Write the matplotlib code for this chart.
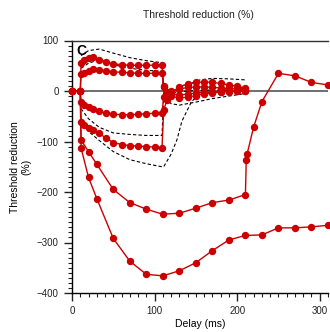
import matplotlib
matplotlib.use("Agg")
import matplotlib.pyplot as plt
from matplotlib.ticker import MultipleLocator

plt.rcParams['font.family'] = ['Liberation Sans', 'DejaVu Sans']

# ---- data ----
delays_a = [0, 10, 11, 15, 20, 26, 33, 41, 50, 60, 70, 80, 90, 100, 109,
            111, 115, 120, 130, 140, 150, 160, 170, 180, 190, 200, 210]
ted40 = [0, 0, 55, 62, 66, 68, 62, 57, 54, 52, 51, 51, 51, 51, 52,
         10, -4, -10, -14, -12, -9, -6, -4, -2, -1, 0, 0]
ted20 = [0, 0, 33, 36, 39, 43, 42, 40, 38, 37, 36, 35, 35, 35, 35,
         8, -2, -6, -8, -6, -4, -3, -2, -1, 0, 0, 0]
teh20 = [0, 0, -22, -28, -32, -36, -40, -44, -46, -47, -47, -46, -45, -44, -44,
         -12, -4, 0, 4, 7, 8, 8, 7, 6, 5, 4, 3]
teh40 = [0, 0, -62, -68, -74, -78, -84, -93, -102, -106, -108, -109, -110, -111, -112,
         -38, -18, -4, 8, 14, 17, 18, 17, 15, 12, 9, 6]

delays_b = [0, 10, 11, 20, 30, 50, 70, 90, 110, 130, 150, 170, 190, 210,
            211, 212, 220, 230, 250, 270, 290, 310]
teh70 = [0, 0, -97, -120, -145, -195, -221, -234, -244, -242, -232, -221, -216, -205,
         -137, -125, -71, -21, 35, 30, 17, 12]

delays_c = [0, 10, 11, 20, 30, 50, 70, 90, 110, 130, 150, 170, 190, 210,
            230, 250, 270, 290, 310]
teh100 = [0, 0, -113, -171, -213, -292, -337, -363, -366, -356, -340, -316, -295, -286,
          -285, -271, -271, -269, -266]

# normal-range limits (dashed)
lim_d_x = [11, 20, 33, 50, 70, 90, 109, 111, 115, 120, 130, 140, 150, 170, 190, 210]
ted40_upper = [70, 80, 83, 75, 66, 60, 56, 0, -3, -4, -2, 0, 1, 2, 2, 2]
ted40_lower = [45, 55, 62, 52, 45, 41, 39, -5, -18, -25, -28, -25, -22, -15, -10, -5]
lim_h_x = [11, 20, 33, 50, 70, 90, 109, 111, 120, 127, 133, 145, 155, 170, 190, 210]
teh40_upper = [-35, -55, -72, -83, -86, -88, -88, -10, 0, 6, 10, 16, 22, 25, 24, 22]
teh40_lower = [-55, -80, -98, -120, -136, -144, -150, -150, -125, -97, -60, -20, -8, -2, 2, 5]

xticks = [0, 100, 200, 300]
yticks = [-400, -300, -200, -100, 0, 100]

# ---- plot ----
fig = plt.figure(figsize=(3.30, 3.32), dpi=100)
ax = fig.add_axes([72/330, 39/332, 256/330, 252.5/332])

red = '#cc0000'
ax.axhline(0, color='#555555', lw=1.2, zorder=1)

dash_kw = dict(color='black', lw=0.8, ls=(0, (3, 2)), zorder=2)
ax.plot(lim_d_x, ted40_upper, **dash_kw)
ax.plot(lim_d_x, ted40_lower, **dash_kw)
ax.plot(lim_h_x, teh40_upper, **dash_kw)
ax.plot(lim_h_x, teh40_lower, **dash_kw)

mk = dict(color=red, lw=1.0, marker='o', ms=4.3, mec=red, mfc=red, zorder=3, clip_on=False)
for s in (ted40, ted20, teh20, teh40):
    ax.plot(delays_a, s, **mk)
ax.plot(delays_b, teh70, **mk)
ax.plot(delays_c, teh100, **mk)

ax.set_xlim(0, 310)
ax.set_ylim(-400, 100)
ax.set_xticks(xticks)
ax.set_yticks(yticks)
ax.xaxis.set_minor_locator(MultipleLocator(10))
ax.yaxis.set_minor_locator(MultipleLocator(10))
ax.tick_params(which='major', direction='out', length=6, width=1, labelsize=7, colors='#222222')
ax.tick_params(which='minor', direction='out', length=3, width=0.8, colors='#222222')

ax.spines['right'].set_visible(False)
ax.spines['top'].set_color('#333333')
ax.spines['top'].set_linewidth(1.0)
ax.spines['left'].set_linewidth(1.0)
ax.spines['bottom'].set_linewidth(1.0)

ax.set_xlabel('Delay (ms)', fontsize=7.5, labelpad=2)
ax.set_ylabel('Threshold reduction\n(%)', fontsize=7.5, labelpad=4)
fig.text(0.60, 0.955, 'Threshold reduction (%)', ha='center', va='center', fontsize=7.5, color='#222222')
ax.text(5, 80, 'C', fontsize=10, fontweight='bold', ha='left', va='center')

fig.savefig('out.png', dpi=100)
